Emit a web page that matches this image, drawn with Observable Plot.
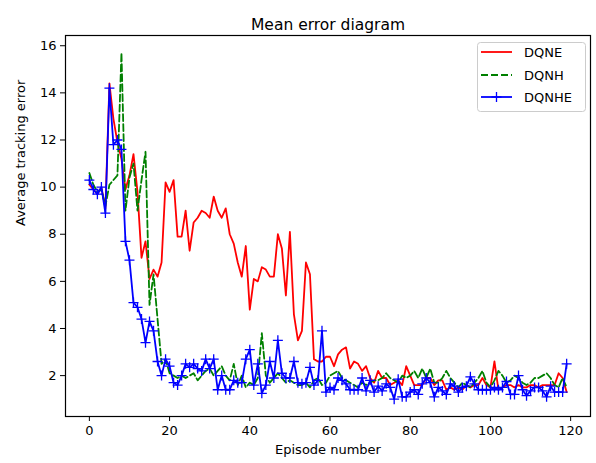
<!DOCTYPE html>
<html>
<head>
<meta charset="utf-8">
<script src="https://cdn.jsdelivr.net/npm/d3@7"></script>
<script src="https://cdn.jsdelivr.net/npm/@observablehq/plot@0.6"></script>
<style>
  html, body { margin: 0; padding: 0; background: #fff; }
  #wrap { position: relative; width: 596px; height: 463px; font-family: "DejaVu Sans", sans-serif; }
  #legend { position: absolute; left: 0; top: 0; pointer-events: none; }
</style>
</head>
<body>
<div id="wrap"></div>
<script>
// ---- Data ----
const title = "Mean error diagram";
const xLabel = "Episode number";
const yLabel = "Average tracking error";
const seriesNames = ["DQNE", "DQNH", "DQNHE"];
const xTicks = [0, 20, 40, 60, 80, 100, 120];
const yTicks = [2, 4, 6, 8, 10, 12, 14, 16];

const dqne = [
  10.1, 9.9, 9.7, 10.0, 9.1, 14.4, 12.9, 11.9, 11.2, 9.9,
  10.5, 11.4, 9.8, 7.0, 7.7, 6.1, 6.5, 6.2, 6.8, 10.2,
  9.8, 10.3, 7.9, 7.9, 9.0, 7.3, 8.5, 8.7, 9.0, 8.9,
  8.7, 9.6, 9.0, 8.7, 9.1, 8.0, 7.6, 6.8, 6.2, 7.5,
  4.8, 6.1, 6.0, 6.6, 6.5, 6.2, 6.2, 8.0, 7.4, 5.4,
  8.1, 4.6, 3.5, 3.9, 6.8, 6.3, 2.7, 2.6, 2.6, 2.8,
  2.8, 2.4, 2.9, 3.1, 3.2, 2.3, 2.6, 2.5, 2.2, 2.4,
  1.9, 1.7, 2.2, 1.9, 1.9, 1.6, 1.7, 1.8, 1.6, 2.4,
  2.0, 1.6, 1.6, 1.6, 1.9, 1.9, 1.6, 1.8, 1.8, 1.4,
  1.5, 1.4, 1.5, 1.4, 1.6, 1.5, 1.6, 1.6, 1.9, 1.6,
  1.5, 2.6, 1.4, 1.5, 1.6, 1.6, 1.5, 1.6, 1.5, 1.5,
  1.6, 1.6, 1.5, 1.6, 1.6, 1.6, 1.6, 2.1, 1.9, 1.3
];
const dqnh = [
  10.6, 10.1, 9.8, 9.9, 9.2, 10.1, 10.3, 10.5, 15.7, 9.0,
  10.4, 11.0, 9.0, 10.3, 11.5, 5.0, 6.3, 4.4, 2.5, 2.7,
  2.1, 2.0, 1.9, 2.0, 1.9, 2.0, 2.1, 1.8, 2.0, 2.2,
  2.3, 2.0, 2.2, 2.4, 2.0, 1.8, 2.5, 1.6, 2.0, 1.5,
  1.7, 1.6, 1.9, 3.8, 2.0, 1.7, 1.9, 2.1, 1.9, 1.7,
  1.8, 1.7, 1.6, 1.6, 1.7, 1.5, 1.8, 1.9, 1.6, 1.7,
  2.0, 2.1, 2.2, 1.9, 1.8, 1.7, 1.6, 1.5, 1.7, 1.6,
  1.7, 1.8, 1.8, 1.9, 2.1, 1.9, 1.8, 1.7, 2.0, 1.9,
  2.0, 2.2, 1.9, 2.3, 1.9, 2.3, 1.7, 1.7, 1.9, 2.2,
  1.9, 1.7, 1.5, 1.7, 1.6, 1.5, 1.7, 1.9, 2.2, 1.7,
  1.5, 1.8, 2.2, 2.0, 1.7, 1.8, 2.0, 1.9, 1.7, 1.6,
  1.7, 1.9, 1.9, 2.0, 2.1, 1.9, 1.6, 1.5, 1.9, 1.5
];
const dqnhe = [
  10.3, 9.9, 9.7, 10.0, 8.9, 14.2, 11.8, 12.0, 11.6, 7.7,
  6.9, 5.1, 4.9, 4.4, 3.4, 4.3, 3.9, 2.6, 2.0, 2.7,
  2.4, 1.7, 1.6, 2.0, 2.5, 2.35, 2.5, 2.3, 2.2, 2.7,
  2.3, 2.7, 1.4, 2.0, 1.4, 1.4, 1.8, 1.7, 1.7, 2.7,
  3.1, 1.6, 2.5, 1.25, 1.6, 2.6, 1.9, 3.5, 2.1, 1.9,
  1.9, 2.6, 1.7, 1.65, 1.7, 2.35, 1.6, 1.8, 3.9, 1.3,
  1.5, 1.4, 1.9, 1.8, 1.65, 1.4, 1.4, 1.4, 1.9, 1.35,
  1.8, 1.3, 1.55, 1.35, 1.65, 1.5, 1.0, 1.85, 1.1, 1.1,
  1.3, 1.4, 1.2, 1.65, 1.9, 1.7, 1.1, 1.5, 1.35, 1.2,
  1.65, 1.55, 1.3, 1.5, 1.55, 1.95, 1.65, 1.4, 1.4, 1.4,
  1.4, 1.5, 1.4, 1.5, 1.75, 1.2, 1.2, 2.0, 1.4, 1.15,
  1.35, 1.5, 1.5, 1.35, 1.1, 1.55, 1.3, 1.3, 1.3, 2.5
];

// ---- Styles ----
const colors = ["#ff0000", "#008000", "#0000ff"];
const font = "DejaVu Sans";

// matplotlib-like 5% autoscale margins, derived from the data
function padded(ext) { const r = ext[1] - ext[0]; return [ext[0] - 0.05 * r, ext[1] + 0.05 * r]; }
const xDomain = padded([0, dqne.length - 1]);
const yDomain = padded(d3.extent([...dqne, ...dqnh, ...dqnhe]));

const plusSymbol = {
  draw(context, size) {
    const r = Math.sqrt(size / Math.PI);
    context.moveTo(-r, 0); context.lineTo(r, 0);
    context.moveTo(0, -r); context.lineTo(0, r);
  }
};

const X = (d, i) => i;
const Y = d => d;

const chart = Plot.plot({
  width: 596,
  height: 463,
  marginLeft: 65,
  marginRight: 6,
  marginTop: 35,
  marginBottom: 47,
  style: { fontFamily: font, fontSize: "13px", color: "black", background: "white", overflow: "visible" },
  x: { domain: xDomain },
  y: { domain: yDomain },
  marks: [
    Plot.axisX({ ticks: xTicks, tickSize: 5, tickPadding: 4, label: null, tickFormat: d => String(d), stroke: "black" }),
    Plot.axisY({ ticks: yTicks, tickSize: 5, tickPadding: 4, label: null, tickFormat: d => String(d), stroke: "black" }),
    Plot.line(dqne, { x: X, y: Y, stroke: colors[0], strokeWidth: 1.8 }),
    Plot.line(dqnh, { x: X, y: Y, stroke: colors[1], strokeWidth: 1.8, strokeDasharray: "7,3" }),
    Plot.line(dqnhe, { x: X, y: Y, stroke: colors[2], strokeWidth: 1.8 }),
    Plot.dot(dqnhe, { x: X, y: Y, symbol: plusSymbol, r: 5, stroke: colors[2], fill: "none", strokeWidth: 1.3 }),
    Plot.frame({ stroke: "black", strokeWidth: 1.2 }),
    Plot.text([title], { frameAnchor: "top", dy: -17, text: d => d, fontSize: 15.5, fill: "black" }),
    Plot.text([xLabel], { frameAnchor: "bottom", dy: 37, text: d => d, fontSize: 13, fill: "black" }),
    Plot.text([yLabel], { frameAnchor: "left", dx: -45, rotate: -90, text: d => d, fontSize: 13, fill: "black" })
  ]
});

const wrap = document.getElementById("wrap");
wrap.appendChild(chart);

// ---- Legend (matplotlib style, upper right) ----
const leg = d3.select(wrap).append("svg")
  .attr("id", "legend").attr("width", 596).attr("height", 463);
leg.append("rect")
  .attr("x", 477.5).attr("y", 42.5).attr("width", 108).attr("height", 69)
  .attr("rx", 3).attr("fill", "white").attr("fill-opacity", 0.8)
  .attr("stroke", "#cccccc").attr("stroke-width", 1);
const rowsY = [52, 75, 97];
seriesNames.forEach((name, i) => {
  const g = leg.append("g");
  const ln = g.append("line")
    .attr("x1", 481).attr("x2", 512).attr("y1", rowsY[i]).attr("y2", rowsY[i])
    .attr("stroke", colors[i]).attr("stroke-width", 1.8);
  if (i === 1) ln.attr("stroke-dasharray", "7,3");
  if (i === 2) {
    g.append("path").attr("d", `M491.5,${rowsY[i]}h10M496.5,${rowsY[i] - 5}v10`)
      .attr("stroke", colors[i]).attr("stroke-width", 1.3).attr("fill", "none");
  }
  g.append("text").attr("x", 524).attr("y", rowsY[i]).attr("dy", "0.35em")
    .attr("font-family", font).attr("font-size", 13).attr("fill", "black").text(name);
});
</script>
</body>
</html>
